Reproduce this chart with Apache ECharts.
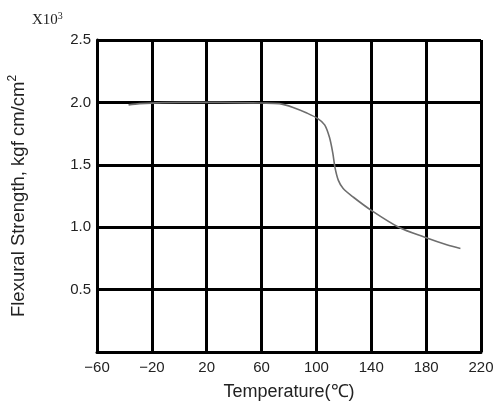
<!DOCTYPE html>
<html>
<head>
<meta charset="utf-8">
<script src="https://cdn.jsdelivr.net/npm/echarts@6/dist/echarts.min.js"></script>
<style>
  html, body { margin: 0; padding: 0; background: #fff; }
  #chart { width: 494px; height: 405px; }
</style>
</head>
<body>
<div id="chart"></div>
<script>
// temperature (°C) and flexural strength (x10^3 kgf cm/cm2)
const temps = [-37, -29, 0, 30, 60, 73, 83, 93, 101, 106, 109.5, 112, 113.5, 116, 119.5, 127, 140, 160, 179, 195, 205]
const strength = [1.98, 1.99, 2.0, 2.0, 1.995, 1.99, 1.96, 1.915, 1.87, 1.82, 1.72, 1.59, 1.48, 1.375, 1.31, 1.24, 1.135, 1.0, 0.92, 0.86, 0.83]
const yTicks = ['0.5', '1.0', '1.5', '2.0', '2.5']

const chart = echarts.init(document.getElementById('chart'))

const labelFont = { color: '#222', fontSize: 15, fontFamily: 'Liberation Sans, Arial, sans-serif' }

const option = {
    animation: false,
    grid: { left: 97, top: 40, right: 13, bottom: 53, outerBoundsMode: 'none', containLabel: false },
    xAxis: {
        type: 'value',
        min: -60,
        max: 220,
        interval: 40,
        name: 'Temperature(℃)',
        nameLocation: 'middle',
        nameGap: 31,
        nameTextStyle: { ...labelFont, fontSize: 18 },
        axisLine: { show: true, onZero: false, lineStyle: { color: '#000', width: 3 } },
        axisTick: { show: false },
        axisLabel: {
            ...labelFont,
            margin: 8,
            formatter: v => String(v).replace('-', '\u2212')
        },
        splitLine: { show: true, lineStyle: { color: '#000', width: 3 } }
    },
    yAxis: {
        type: 'value',
        min: 0,
        max: 2.5,
        interval: 0.5,
        name: 'Flexural Strength, kgf cm/cm{sup|2}',
        nameLocation: 'middle',
        nameGap: 66,
        nameTextStyle: {
            ...labelFont,
            fontSize: 18.5,
            rich: { sup: { fontSize: 12, verticalAlign: 'top', padding: [0, 0, 12, 0], fontFamily: 'Liberation Sans, Arial, sans-serif', color: '#222' } }
        },
        axisLine: { show: true, onZero: false, lineStyle: { color: '#000', width: 3 } },
        axisTick: { show: false },
        axisLabel: {
            ...labelFont,
            margin: 6,
            formatter: v => yTicks.includes(v.toFixed(1)) ? v.toFixed(1) : ''
        },
        splitLine: { show: true, lineStyle: { color: '#000', width: 3 } }
    },
    series: [
        {
            type: 'line',
            data: temps.map((t, i) => [t, strength[i]]),
            smooth: 0.3,
            showSymbol: false,
            lineStyle: { color: '#6e6e6e', width: 1.6 }
        }
    ],
    graphic: [
        {
            type: 'text',
            left: 32,
            top: 11,
            style: {
                text: 'X10{sup|3}',
                font: '15px "Liberation Serif", serif',
                fill: '#222',
                rich: { sup: { font: '10px "Liberation Serif", serif', fill: '#222', verticalAlign: 'top', padding: [0, 0, 8, 0] } }
            }
        }
    ]
}

chart.setOption(option)

window.addEventListener('resize', () => {
    chart.resize()
})
</script>
</body>
</html>
